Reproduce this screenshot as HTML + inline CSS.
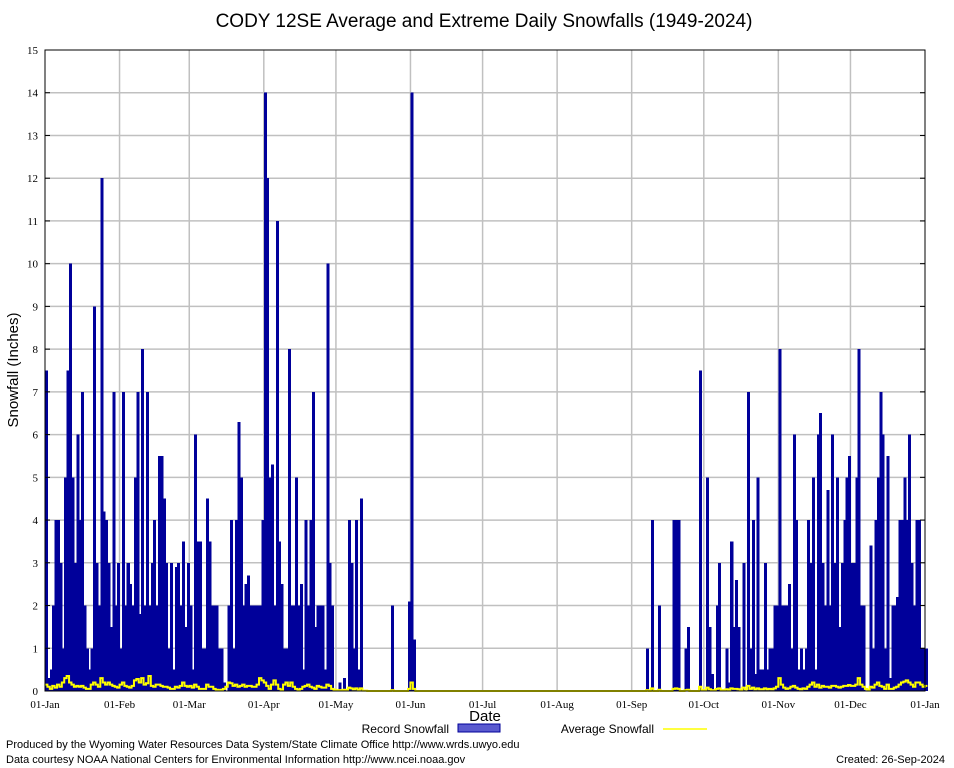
<!DOCTYPE html>
<html><head><meta charset="utf-8">
<style>
html,body{margin:0;padding:0;background:#fff;}
svg{display:block;}
</style></head>
<body>
<svg id="chart" width="954" height="768" viewBox="0 0 954 768" xmlns="http://www.w3.org/2000/svg">
<rect width="954" height="768" fill="#fff"/>
<text x="484" y="27" text-anchor="middle" font-family="Liberation Sans, sans-serif" font-size="19">CODY 12SE Average and Extreme Daily Snowfalls (1949-2024)</text>
<g id="grid"></g>
<g id="bars" shape-rendering="crispEdges"></g>
<g id="avg"></g>
<rect x="45" y="50" width="880" height="641" fill="none" stroke="#000" stroke-width="1"/>
<g id="axes"></g>
<text transform="translate(18,370) rotate(-90)" text-anchor="middle" font-family="Liberation Sans, sans-serif" font-size="15">Snowfall (Inches)</text>
<text x="485" y="721" text-anchor="middle" font-family="Liberation Sans, sans-serif" font-size="15">Date</text>
<g>
<text x="449" y="733" text-anchor="end" font-family="Liberation Sans, sans-serif" font-size="12">Record Snowfall</text>
<rect x="458" y="724" width="42" height="8" fill="#5a5acf" stroke="#00009a"/>
<text x="654" y="733" text-anchor="end" font-family="Liberation Sans, sans-serif" font-size="12">Average Snowfall</text>
<line x1="663" y1="729" x2="707" y2="729" stroke="#ffff00" stroke-width="1.5"/>
</g>
<text x="6" y="748" font-family="Liberation Sans, sans-serif" font-size="11">Produced by the Wyoming Water Resources Data System/State Climate Office http://www.wrds.uwyo.edu</text>
<text x="6" y="763" font-family="Liberation Sans, sans-serif" font-size="11">Data courtesy NOAA National Centers for Environmental Information http://www.ncei.noaa.gov</text>
<text x="945" y="763" text-anchor="end" font-family="Liberation Sans, sans-serif" font-size="11">Created: 26-Sep-2024</text>
</svg>
<script>
const monthLabels = ["01-Jan","01-Feb","01-Mar","01-Apr","01-May","01-Jun","01-Jul","01-Aug","01-Sep","01-Oct","01-Nov","01-Dec","01-Jan"];
const monthStartDays = [0,31,60,91,121,152,182,213,244,274,305,335,366];
const yTicks = [0,1,2,3,4,5,6,7,8,9,10,11,12,13,14,15];
const recordJan = [7.5,0.3,0.5,2,4,4,3,1,5,7.5,10,5,3,6,4,7,2,1,0.5,1,9,3,2,12,4.2,4,3,1.5,7,2,3];
const recordFeb = [1,7,2,3,2.5,2,5,7,1.8,8,2,7,2,3,4,2,5.5,5.5,4.5,3,1,3,0.5,2.9,3,2,3.5,1.5,3];
const recordMar = [2,0.5,6,3.5,3.5,1,1,4.5,3.5,2,2,2,1,1,0.2,0,2,4,1,4,6.3,5,2,2.5,2.7,2,2,2,2,2,4];
const recordApr = [14,12,5,5.3,2,11,3.5,2.5,1,1,8,2,2,5,2,2.5,0.5,4,2,4,7,1.5,2,2,2,0.5,10,3,2,0];
const recordMay = [0,0.2,0,0.3,0,4,3,1,4,0.5,4.5,0,0,0,0,0,0,0,0,0,0,0,0,2,0,0,0,0,0,0,2.1];
const recordJun = [14,1.2,0,0,0,0,0,0,0,0,0,0,0,0,0,0,0,0,0,0,0,0,0,0,0,0,0,0,0,0];
const recordJul = [0,0,0,0,0,0,0,0,0,0,0,0,0,0,0,0,0,0,0,0,0,0,0,0,0,0,0,0,0,0,0];
const recordAug = [0,0,0,0,0,0,0,0,0,0,0,0,0,0,0,0,0,0,0,0,0,0,0,0,0,0,0,0,0,0,0];
const recordSep = [0,0,0,0,0,0,1,0,4,0,0,2,0,0,0,0,0,4,4,4,0,0,1,1.5,0,0,0,0,7.5,0];
const recordOct = [0,5,1.5,0.4,0,2,3,0,0,1,0.2,3.5,1.5,2.6,1.5,0,3,0,7,1,4,0.4,5,0.5,0.5,3,0.5,1,1,2,2,8];
const recordNov = [2,2,2,2.5,1,6,4,0.5,1,0.5,1,4,3,5,0.5,6,6.5,3,2,4.7,2,6,3,5,1.5,3,4,5,5.5,3];
const recordDec = [3,5,8,2,2,0,0,3.4,1,4,5,7,6,1,5.5,0.3,2,2,2.2,4,4,5,4,6,3,2,4,4,1,1,1];
const avgJan = [0.15,0.1,0.05,0.12,0.08,0.15,0.1,0.2,0.3,0.35,0.2,0.15,0.1,0.12,0.1,0.12,0.08,0.05,0.05,0.15,0.2,0.15,0.1,0.3,0.2,0.15,0.2,0.15,0.12,0.1,0.08];
const avgFeb = [0.15,0.2,0.12,0.1,0.08,0.12,0.25,0.28,0.2,0.3,0.15,0.18,0.35,0.12,0.1,0.15,0.15,0.12,0.1,0.1,0.08,0.05,0.05,0.1,0.08,0.12,0.2,0.12,0.1];
const avgMar = [0.12,0.08,0.15,0.1,0.05,0.05,0.05,0.15,0.1,0.1,0.05,0.03,0.02,0.03,0.05,0.1,0.2,0.18,0.12,0.15,0.1,0.12,0.15,0.1,0.12,0.12,0.1,0.1,0.15,0.3,0.25];
const avgApr = [0.2,0.12,0.05,0.15,0.25,0.15,0.05,0.02,0.15,0.2,0.12,0.2,0.1,0.05,0.03,0.05,0.1,0.12,0.15,0.1,0.08,0.05,0.12,0.1,0.08,0.08,0.15,0.12,0.05,0.03];
const avgMay = [0.02,0.02,0.02,0.03,0.02,0.08,0.06,0.04,0.06,0.03,0.06,0.01,0.01,0,0,0,0,0,0,0,0,0,0,0.02,0,0,0,0,0,0,0.05];
const avgJun = [0.2,0.05,0,0,0,0,0,0,0,0,0,0,0,0,0,0,0,0,0,0,0,0,0,0,0,0,0,0,0,0];
const avgJul = [0,0,0,0,0,0,0,0,0,0,0,0,0,0,0,0,0,0,0,0,0,0,0,0,0,0,0,0,0,0,0];
const avgAug = [0,0,0,0,0,0,0,0,0,0,0,0,0,0,0,0,0,0,0,0,0,0,0,0,0,0,0,0,0,0,0];
const avgSep = [0,0,0,0,0,0,0.02,0,0.06,0,0,0.03,0,0,0,0,0,0.05,0.06,0.05,0,0,0.02,0.03,0,0,0,0,0.1,0.02];
const avgOct = [0.02,0.08,0.04,0.02,0.02,0.05,0.06,0.02,0.02,0.04,0.03,0.06,0.05,0.05,0.04,0.02,0.08,0.04,0.12,0.05,0.08,0.04,0.06,0.04,0.04,0.06,0.04,0.05,0.04,0.06,0.1,0.3];
const avgNov = [0.15,0.08,0.05,0.06,0.1,0.12,0.08,0.05,0.04,0.06,0.05,0.1,0.15,0.2,0.1,0.15,0.08,0.12,0.1,0.1,0.08,0.12,0.12,0.1,0.08,0.1,0.12,0.12,0.14,0.12];
const avgDec = [0.12,0.15,0.3,0.15,0.1,0.05,0.02,0.1,0.08,0.15,0.2,0.12,0.1,0.05,0.15,0.05,0.05,0.08,0.1,0.15,0.2,0.22,0.25,0.2,0.15,0.1,0.2,0.2,0.15,0.1,0.12];

const records = [].concat(recordJan,recordFeb,recordMar,recordApr,recordMay,recordJun,recordJul,recordAug,recordSep,recordOct,recordNov,recordDec);
const averages = [].concat(avgJan,avgFeb,avgMar,avgApr,avgMay,avgJun,avgJul,avgAug,avgSep,avgOct,avgNov,avgDec);

const NS = "http://www.w3.org/2000/svg";
const L = 45, R = 925, T = 50, B = 691, NDAYS = 366, YMAX = 15;
function xScale(d){ return L + (R - L) * d / NDAYS; }
function yScale(v){ return B - (B - T) * v / YMAX; }
function mk(tag, attrs, parent){
  const e = document.createElementNS(NS, tag);
  for (const k in attrs) e.setAttribute(k, attrs[k]);
  parent.appendChild(e);
  return e;
}
const grid = document.getElementById('grid');
const axes = document.getElementById('axes');
yTicks.forEach(t => {
  const y = yScale(t);
  if (t > 0 && t < YMAX) {
    const gl = mk('line', {x1:L, x2:R, y1:y, y2:y, stroke:'#c0c0c0', 'stroke-width':1.5}, grid);
    
    
  }
  const tk = mk('line', {x1:L, x2:L+5, y1:y, y2:y, stroke:'#000'}, axes);
  
  
  const tk2 = mk('line', {x1:R-5, x2:R, y1:y, y2:y, stroke:'#000'}, axes);
  
  
  const lb = mk('text', {x:L-7, y:y+4, 'text-anchor':'end', 'font-family':'Liberation Serif, serif', 'font-size':11}, axes);
  lb.textContent = t;
  
  
});
monthStartDays.forEach((d, i) => {
  const x = xScale(d);
  if (i > 0 && i < monthStartDays.length - 1) {
    const gl = mk('line', {x1:x, x2:x, y1:T, y2:B, stroke:'#c0c0c0', 'stroke-width':1.5}, grid);
    
    
  }
  const lb = mk('text', {x:x, y:708, 'text-anchor':'middle', 'font-family':'Liberation Serif, serif', 'font-size':11}, axes);
  lb.textContent = monthLabels[i];
  
  
});
const bars = document.getElementById('bars');
records.forEach((v, d) => {
  if (v <= 0) return;
  const x0 = xScale(d), x1 = xScale(d + 1);
  const r = mk('rect', {x:x0, y:yScale(v), width:(x1 - x0 + 0.6), height:(B - yScale(v)), fill:'#00009a'}, bars);
  
  
});
const avgG = document.getElementById('avg');
let pts = [];
averages.forEach((v, d) => {
  pts.push(xScale(d) + ',' + yScale(v));
  pts.push(xScale(d + 1) + ',' + yScale(v));
});
const pl = mk('polyline', {points:pts.join(' '), fill:'none', stroke:'#ffff00', 'stroke-width':2}, avgG);


</script>
</body></html>
